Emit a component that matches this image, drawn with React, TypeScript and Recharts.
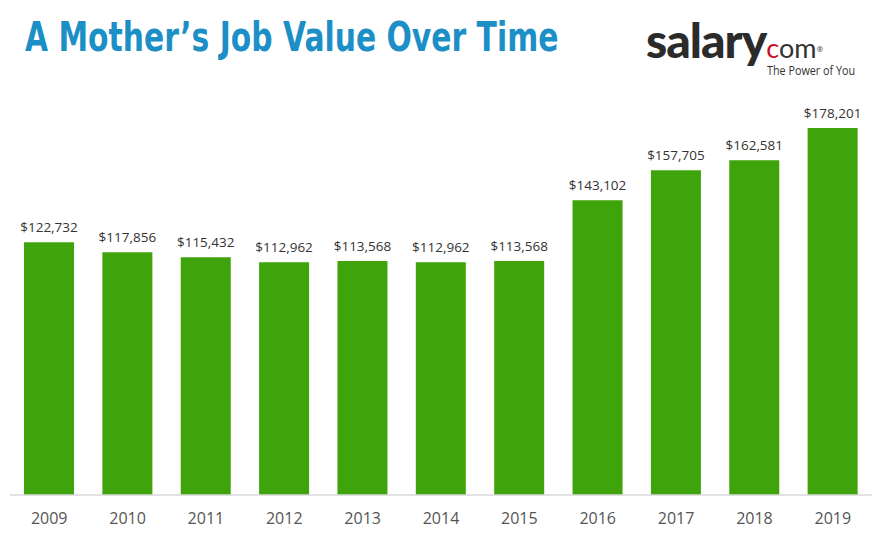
import { Bar, BarChart, LabelList, XAxis, YAxis } from 'recharts'

const years = ['2009', '2010', '2011', '2012', '2013', '2014', '2015', '2016', '2017', '2018', '2019']
const jobValues = [122732, 117856, 115432, 112962, 113568, 112962, 113568, 143102, 157705, 162581, 178201]

const chartData = years.map((year, i) => ({ year, value: jobValues[i] }))

const sans = '"Open Sans", sans-serif'

const formatMoney = (v: number) => `$${v.toLocaleString('en-US')}`

export default function App() {
  return (
    <div
      style={{
        position: 'absolute',
        left: 0,
        top: 0,
        width: 884,
        height: 533,
        background: '#fff',
        fontFamily: sans,
        overflow: 'hidden',
      }}
    >
      <div
        style={{
          position: 'absolute',
          left: 25,
          top: 13,
          fontFamily: '"DejaVu Sans", sans-serif',
          fontWeight: 700,
          fontSize: 41,
          color: '#1b8fc6',
          whiteSpace: 'nowrap',
          transform: 'scaleX(0.727)',
          transformOrigin: 'left top',
        }}
      >
        A Mother’s Job Value Over Time
      </div>
      <div style={{ position: 'absolute', left: 646, top: 11, whiteSpace: 'nowrap' }}>
        <span
          style={{
            fontFamily: 'Lato, sans-serif',
            fontWeight: 900,
            fontSize: 48,
            color: '#2b2b2b',
            letterSpacing: -1,
          }}
        >
          salary
        </span>
        <span style={{ fontFamily: 'Lato, sans-serif', fontSize: 27, color: '#333' }}>
          <span style={{ color: '#c8102e' }}>c</span>om
        </span>
        <sup style={{ fontSize: 8, color: '#333' }}>®</sup>
      </div>
      <div
        style={{
          position: 'absolute',
          left: 767,
          top: 62,
          fontFamily: sans,
          fontSize: 12,
          color: '#333',
          whiteSpace: 'nowrap',
          transform: 'scaleX(0.9)',
          transformOrigin: 'left top',
        }}
      >
        The Power of You
      </div>
      <BarChart
        width={884}
        height={533}
        data={chartData}
        margin={{ top: 128, right: 12, bottom: 0, left: 10 }}
        style={{ position: 'absolute', left: 0, top: 0 }}
      >
        <YAxis hide domain={[0, 178201]} />
        <XAxis
          dataKey="year"
          height={38}
          tickLine={false}
          axisLine={{ stroke: '#d9d9d9', strokeWidth: 1.5 }}
          tickMargin={12}
          tick={{ fill: '#555', fontSize: 16, fontFamily: sans }}
        />
        <Bar dataKey="value" fill="#3fa30b" barSize={50} isAnimationActive={false}>
          <LabelList
            dataKey="value"
            position="top"
            offset={10}
            formatter={(v: number) => formatMoney(v)}
            style={{ fill: '#333', fontSize: 13.5, fontFamily: sans }}
          />
        </Bar>
      </BarChart>
    </div>
  )
}
